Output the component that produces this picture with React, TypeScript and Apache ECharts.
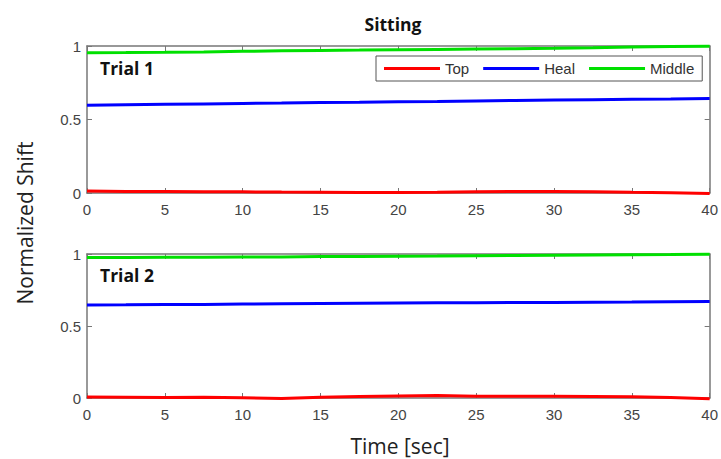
import React, { useEffect, useRef } from "react";
import * as echarts from "echarts";

const time = [0, 2.5, 5, 7.5, 10, 12.5, 15, 17.5, 20, 22.5, 25, 27.5, 30, 32.5, 35, 37.5, 40];

const trial1Top = [0.014, 0.011, 0.010, 0.009, 0.008, 0.006, 0.005, 0.004, 0.004, 0.005, 0.008, 0.010, 0.010, 0.009, 0.005, 0.002, -0.004];
const trial1Heal = [0.597, 0.600, 0.603, 0.606, 0.609, 0.612, 0.616, 0.618, 0.621, 0.623, 0.626, 0.629, 0.632, 0.635, 0.638, 0.640, 0.643];
const trial1Middle = [0.954, 0.955, 0.957, 0.960, 0.964, 0.967, 0.970, 0.972, 0.975, 0.977, 0.979, 0.981, 0.984, 0.988, 0.993, 0.996, 0.999];

const trial2Top = [0.007, 0.005, 0.003, 0.006, 0.002, -0.003, 0.006, 0.010, 0.014, 0.017, 0.012, 0.012, 0.013, 0.011, 0.008, 0.003, -0.006];
const trial2Heal = [0.646, 0.647, 0.649, 0.650, 0.652, 0.654, 0.656, 0.658, 0.660, 0.661, 0.662, 0.663, 0.664, 0.665, 0.666, 0.668, 0.670];
const trial2Middle = [0.975, 0.976, 0.977, 0.978, 0.979, 0.980, 0.982, 0.983, 0.985, 0.986, 0.988, 0.989, 0.991, 0.993, 0.995, 0.996, 0.998];

const seriesNames = ["Top", "Heal", "Middle"];
const seriesColors = ["#ff0000", "#0000ff", "#00e000"];
const trialLabels = ["Trial 1", "Trial 2"];

const tickFont = { fontFamily: "Liberation Sans", fontSize: 15, color: "#444" };

export default function App() {
  const ref = useRef<HTMLDivElement>(null);
  useEffect(() => {
    if (!ref.current) return;
    const chart = echarts.init(ref.current, null, { renderer: "svg" });
    const pair = (ys: number[]) => time.map((t, i) => [t, ys[i]]);
    const trials = [
      [trial1Top, trial1Heal, trial1Middle],
      [trial2Top, trial2Heal, trial2Middle],
    ];
    const grids = [
      { left: 87, right: 6, top: 46, height: 147 },
      { left: 87, right: 6, top: 254, height: 144 },
    ];
    const lineCfg = { show: true, onZero: false, lineStyle: { color: "#777", width: 1.5 } };
    const tickCfg = { show: true, inside: true, length: 5, lineStyle: { color: "#777" } };
    const xAxis: any[] = [];
    const yAxis: any[] = [];
    grids.forEach((_, g) => {
      xAxis.push({
        type: "value", gridIndex: g, position: "bottom", min: 0, max: 40, interval: 5,
        axisLine: lineCfg, axisTick: tickCfg,
        axisLabel: { ...tickFont, margin: 9 },
        splitLine: { show: false },
      });
      xAxis.push({
        type: "value", gridIndex: g, position: "top", min: 0, max: 40, interval: 5,
        axisLine: lineCfg, axisTick: tickCfg,
        axisLabel: { show: false },
        splitLine: { show: false },
      });
      yAxis.push({
        type: "value", gridIndex: g, position: "left", min: 0, max: 1, interval: 0.5,
        axisLine: lineCfg, axisTick: tickCfg,
        axisLabel: { ...tickFont, margin: 6 },
        splitLine: { show: false },
      });
      yAxis.push({
        type: "value", gridIndex: g, position: "right", min: 0, max: 1, interval: 0.5,
        axisLine: lineCfg, axisTick: tickCfg,
        axisLabel: { show: false },
        splitLine: { show: false },
      });
    });
    const series: any[] = [];
    trials.forEach((arrs, g) => {
      arrs.forEach((ys, k) => {
        series.push({
          type: "line",
          name: seriesNames[k],
          xAxisIndex: g * 2,
          yAxisIndex: g * 2,
          data: pair(ys),
          showSymbol: false,
          clip: false,
          lineStyle: { color: seriesColors[k], width: 3 },
          itemStyle: { color: seriesColors[k] },
          z: 3 + k,
        });
      });
    });
    chart.setOption({
      animation: false,
      backgroundColor: "#ffffff",
      grid: grids,
      xAxis,
      yAxis,
      series,
      legend: {
        data: seriesNames,
        left: 376,
        top: 56,
        width: 324,
        orient: "horizontal",
        icon: "rect",
        itemWidth: 56,
        itemHeight: 3,
        itemGap: 14,
        padding: [5, 8, 5, 8],
        borderColor: "#555",
        borderWidth: 1,
        backgroundColor: "#fff",
        textStyle: { fontFamily: "Liberation Sans", fontSize: 15, color: "#333" },
        z: 10,
      },
      graphic: [
        {
          type: "text", x: 393, y: 24,
          style: { text: "Sitting", font: "bold 17.5px 'Open Sans'", fill: "#111", align: "center", verticalAlign: "middle" },
        },
        {
          type: "text", x: 100, y: 68,
          style: { text: trialLabels[0], font: "bold 17.5px 'Open Sans'", fill: "#111", verticalAlign: "middle" },
        },
        {
          type: "text", x: 100, y: 275,
          style: { text: trialLabels[1], font: "bold 17.5px 'Open Sans'", fill: "#111", verticalAlign: "middle" },
        },
        {
          type: "text", x: 25, y: 223, rotation: Math.PI / 2,
          style: { text: "Normalized Shift", font: "21px 'Open Sans'", fill: "#222", align: "center", verticalAlign: "middle" },
        },
        {
          type: "text", x: 400, y: 446,
          style: { text: "Time [sec]", font: "21px 'Open Sans'", fill: "#222", align: "center", verticalAlign: "middle" },
        },
      ],
    });
    return () => chart.dispose();
  }, []);
  return (
    <div
      ref={ref}
      style={{ position: "fixed", left: 0, top: 0, width: 721, height: 459 }}
    />
  );
}
